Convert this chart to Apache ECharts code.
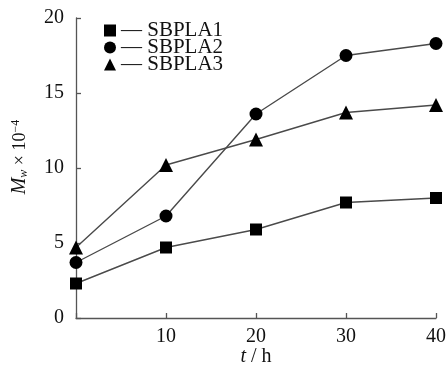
<!DOCTYPE html>
<html>
<head>
<meta charset="utf-8">
<script src="https://cdn.jsdelivr.net/npm/echarts@6/dist/echarts.min.js"></script>
<style>
  html, body { margin: 0; padding: 0; background: #fff; }
  #chart { width: 448px; height: 371px; }
</style>
</head>
<body>
<div id="chart"></div>
<script>
// Sampling times (h)
const hours = [0, 10, 20, 30, 40];
// Weight-average molecular weight, Mw × 10^-4
const sbpla1 = [2.3, 4.7, 5.9, 7.7, 8.0];
const sbpla2 = [3.7, 6.8, 13.6, 17.5, 18.3];
const sbpla3 = [4.7, 10.2, 11.9, 13.7, 14.2];
const seriesNames = ['SBPLA1', 'SBPLA2', 'SBPLA3'];
const xTicks = [0, 10, 20, 30, 40];
const yTicks = [0, 5, 10, 15, 20];

const serif = '"Liberation Serif", "Times New Roman", serif';
const axisColor = '#555';
const lineColor = '#4a4a4a';
const textColor = '#111';

function pairs(vals) {
  return hours.map((h, i) => [h, vals[i]]);
}

function makeSeries(name, vals, symbol, size) {
  return {
    name: name,
    type: 'line',
    data: pairs(vals),
    symbol: symbol,
    symbolSize: size,
    showAllSymbol: true,
    lineStyle: { color: lineColor, width: 1.4 },
    itemStyle: { color: '#000', borderWidth: 0 },
    emphasis: { disabled: true },
    z: 3
  };
}

const chart = echarts.init(document.getElementById('chart'), null, { renderer: 'canvas' });
chart.setOption({
  animation: false,
  backgroundColor: '#fff',
  grid: { left: 76, right: 12, top: 18, bottom: 53, containLabel: false, outerBoundsMode: 'none' },
  legend: {
    left: 104, top: 20,
    padding: 0,
    orient: 'vertical',
    itemGap: -4,
    itemWidth: 12, itemHeight: 12,
    data: [
      { name: seriesNames[0], icon: 'rect' },
      { name: seriesNames[1], icon: 'circle' },
      { name: seriesNames[2], icon: 'triangle' }
    ],
    formatter: name => '— ' + name,
    textStyle: { fontFamily: serif, fontSize: 21, color: textColor },
    itemStyle: { color: '#000' },
    selectedMode: false
  },
  xAxis: {
    type: 'value',
    min: xTicks[0], max: xTicks[xTicks.length - 1], interval: 10,
    name: '{i|t} / h',
    nameLocation: 'middle',
    nameGap: 29,
    nameMoveOverlap: false,
    nameTextStyle: {
      fontFamily: serif, fontSize: 20, color: textColor,
      rich: { i: { fontFamily: serif, fontSize: 20, fontStyle: 'italic', color: textColor } }
    },
    axisLine: { lineStyle: { color: axisColor, width: 1.3 } },
    axisTick: { inside: true, length: 5, lineStyle: { color: axisColor, width: 1.3 } },
    axisLabel: {
      fontFamily: serif, fontSize: 20, color: textColor, margin: 9,
      formatter: v => (v === 0 ? '' : String(v))
    },
    splitLine: { show: false }
  },
  yAxis: {
    type: 'value',
    min: yTicks[0], max: yTicks[yTicks.length - 1], interval: 5,
    name: '{m|M}{s|w} × 10{p|−4}',
    nameLocation: 'middle',
    nameRotate: 90,
    nameGap: 46,
    nameMoveOverlap: false,
    nameTextStyle: {
      fontFamily: serif, fontSize: 18, color: textColor,
      padding: [0, 0, 0, 22],
      rich: {
        m: { fontFamily: serif, fontSize: 20, fontStyle: 'italic', color: textColor },
        s: { fontFamily: serif, fontSize: 12, fontStyle: 'italic', color: textColor, verticalAlign: 'bottom', padding: [7, 0, 0, 0] },
        p: { fontFamily: serif, fontSize: 12, color: textColor, verticalAlign: 'top', padding: [0, 0, 8, 0] }
      }
    },
    axisLine: { show: true, lineStyle: { color: axisColor, width: 1.3 } },
    axisTick: { show: true, inside: true, length: 5, lineStyle: { color: axisColor, width: 1.3 } },
    axisLabel: { fontFamily: serif, fontSize: 20, color: textColor, margin: 12 },
    splitLine: { show: false }
  },
  series: [
    makeSeries(seriesNames[0], sbpla1, 'rect', 12),
    makeSeries(seriesNames[1], sbpla2, 'circle', 13),
    makeSeries(seriesNames[2], sbpla3, 'triangle', 14)
  ]
});
</script>
</body>
</html>
